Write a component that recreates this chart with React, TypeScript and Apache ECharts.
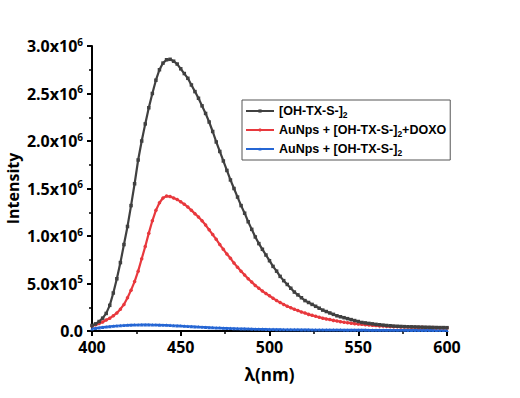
import React, { useEffect, useRef } from "react";
import * as echarts from "echarts";

const wavelengths = [
  400, 402, 404, 406, 408, 410, 412, 414, 416, 418, 420, 422, 424, 426, 428, 430, 432, 434, 436, 438,
  440, 442, 444, 446, 448, 450, 452, 454, 456, 458, 460, 462, 464, 466, 468, 470, 472, 474, 476, 478,
  480, 482, 484, 486, 488, 490, 492, 494, 496, 498, 500, 502, 504, 506, 508, 510, 512, 514, 516, 518,
  520, 522, 524, 526, 528, 530, 532, 534, 536, 538, 540, 542, 544, 546, 548, 550, 552, 554, 556, 558,
  560, 562, 564, 566, 568, 570, 572, 574, 576, 578, 580, 582, 584, 586, 588, 590, 592, 594, 596, 598, 600,
];

// intensities in units of 1e6
const grayValues = [
  0.058, 0.075, 0.1, 0.135, 0.185, 0.27, 0.4, 0.55, 0.72, 0.91, 1.1, 1.32, 1.55, 1.8, 2.0, 2.18, 2.35, 2.5, 2.64, 2.75,
  2.82, 2.855, 2.86, 2.84, 2.81, 2.76, 2.71, 2.66, 2.59, 2.52, 2.45, 2.37, 2.29, 2.2, 2.1, 1.99, 1.89, 1.79, 1.69, 1.59,
  1.5, 1.41, 1.32, 1.24, 1.15, 1.07, 0.99, 0.92, 0.86, 0.8, 0.74, 0.68, 0.63, 0.575, 0.53, 0.49, 0.45, 0.41, 0.38, 0.35,
  0.32, 0.3, 0.28, 0.26, 0.24, 0.22, 0.205, 0.19, 0.175, 0.16, 0.15, 0.14, 0.13, 0.12, 0.11, 0.1, 0.09, 0.085, 0.08, 0.075,
  0.07, 0.066, 0.062, 0.058, 0.055, 0.052, 0.05, 0.048, 0.046, 0.045, 0.044, 0.043, 0.042, 0.041, 0.04, 0.039, 0.038, 0.037, 0.036, 0.036, 0.035,
];

const redValues = [
  0.055, 0.065, 0.078, 0.095, 0.115, 0.135, 0.16, 0.19, 0.23, 0.28, 0.35, 0.43, 0.52, 0.63, 0.76, 0.89, 1.03, 1.16, 1.27, 1.35,
  1.4, 1.42, 1.415, 1.4, 1.385, 1.36, 1.335, 1.305, 1.27, 1.235, 1.2, 1.16, 1.115, 1.065, 1.015, 0.965, 0.91, 0.86, 0.81, 0.765,
  0.715, 0.67, 0.63, 0.59, 0.55, 0.515, 0.48, 0.45, 0.42, 0.395, 0.37, 0.345, 0.32, 0.3, 0.28, 0.26, 0.245, 0.23, 0.215, 0.2,
  0.19, 0.175, 0.165, 0.155, 0.145, 0.135, 0.127, 0.12, 0.112, 0.105, 0.098, 0.092, 0.087, 0.082, 0.077, 0.073, 0.07, 0.066, 0.063, 0.06,
  0.057, 0.054, 0.052, 0.05, 0.048, 0.046, 0.044, 0.043, 0.042, 0.041, 0.04, 0.039, 0.038, 0.038, 0.037, 0.036, 0.036, 0.035, 0.035, 0.034, 0.034,
];

const blueValues = [
  0.025, 0.03, 0.035, 0.04, 0.044, 0.048, 0.052, 0.055, 0.058, 0.06, 0.062, 0.064, 0.065, 0.066, 0.067, 0.067, 0.067, 0.066, 0.065, 0.064,
  0.063, 0.062, 0.06, 0.058, 0.056, 0.054, 0.052, 0.05, 0.048, 0.046, 0.044, 0.042, 0.04, 0.038, 0.036, 0.034, 0.033, 0.031, 0.03, 0.028,
  0.027, 0.026, 0.025, 0.024, 0.023, 0.022, 0.021, 0.02, 0.02, 0.019, 0.018, 0.018, 0.017, 0.017, 0.016, 0.016, 0.015, 0.015, 0.015, 0.014,
  0.014, 0.014, 0.013, 0.013, 0.013, 0.013, 0.012, 0.012, 0.012, 0.012, 0.012, 0.011, 0.011, 0.011, 0.011, 0.011, 0.011, 0.011, 0.01, 0.01,
  0.01, 0.01, 0.01, 0.01, 0.01, 0.01, 0.01, 0.01, 0.01, 0.009, 0.009, 0.009, 0.009, 0.009, 0.009, 0.009, 0.009, 0.008, 0.008, 0.008, 0.008,
];

const seriesNames = ["gray", "red", "blue"];
const legendLabels = [
  "{t|[OH-TX-S-]}{s|2}",
  "{t|AuNps + [OH-TX-S-]}{s|2}{t|+DOXO}",
  "{t|AuNps + [OH-TX-S-]}{s|2}",
];
const colors = ["#404040", "#e8383d", "#2566d4"];
const symbols = ["rect", "circle", "triangle"];

const FONT = "Open Sans";

export default function App() {
  const ref = useRef<HTMLDivElement>(null);
  useEffect(() => {
    if (!ref.current) return;
    const chart = echarts.init(ref.current, null, { renderer: "svg" });
    const datasets = [grayValues, redValues, blueValues];
    const option: any = {
      animation: false,
      backgroundColor: "#ffffff",
      grid: { left: 92, right: 73, top: 46, bottom: 67, containLabel: false, outerBoundsMode: "none" },
      legend: {
        show: true,
        left: 242,
        top: 100,
        orient: "vertical",
        borderColor: "#555",
        borderWidth: 1,
        borderRadius: 0,
        padding: [4, 4, 3, 3],
        itemGap: 4,
        itemWidth: 28,
        itemHeight: 4,
        data: seriesNames,
        formatter: (name: string) => legendLabels[seriesNames.indexOf(name)],
        textStyle: {
          color: "#000",
          fontFamily: "Liberation Sans",
          fontWeight: "bold",
          fontSize: 12.5,
          lineHeight: 14,
          rich: {
            t: { fontFamily: "Liberation Sans", fontWeight: "bold", fontSize: 12.5, color: "#000" },
            s: { fontFamily: "Liberation Sans", fontWeight: "bold", fontSize: 8.5, color: "#000", padding: [7, 0, 0, 0] },
          },
        },
      },
      xAxis: {
        type: "value",
        min: 400,
        max: 600,
        interval: 50,
        name: "λ(nm)",
        nameLocation: "middle",
        nameGap: 35,
        nameMoveOverlap: false,
        nameTextStyle: { fontFamily: FONT, fontWeight: "bold", fontSize: 17, color: "#000" },
        axisLine: { show: true, onZero: false, lineStyle: { color: "#000", width: 2 } },
        axisTick: { show: true, inside: false, length: 5, lineStyle: { color: "#000", width: 2 } },
        minorTick: { show: true, splitNumber: 2, length: 3, lineStyle: { color: "#000", width: 1.5 } },
        splitLine: { show: false },
        axisLabel: { fontFamily: FONT, fontWeight: "bold", fontSize: 16, color: "#000", margin: 8 },
      },
      yAxis: {
        type: "value",
        min: 0,
        max: 3000000,
        interval: 500000,
        name: "Intensity",
        nameLocation: "middle",
        nameGap: 71,
        nameMoveOverlap: false,
        nameTextStyle: { fontFamily: FONT, fontWeight: "bold", fontSize: 16, color: "#000" },
        axisLine: { show: true, lineStyle: { color: "#000", width: 2 } },
        axisTick: { show: true, inside: false, length: 5, lineStyle: { color: "#000", width: 2 } },
        minorTick: { show: true, splitNumber: 2, length: 3, lineStyle: { color: "#000", width: 1.5 } },
        splitLine: { show: false },
        axisLabel: {
          margin: 9,
          formatter: (v: number) => {
            if (v === 0) return "{b|0.0}";
            const exp = Math.floor(Math.log10(v) + 1e-9);
            const mant = v / Math.pow(10, exp);
            return "{b|" + mant.toFixed(1) + "x10}{p|" + exp + "}";
          },
          rich: {
            b: { fontFamily: FONT, fontWeight: "bold", fontSize: 16, color: "#000" },
            p: { fontFamily: FONT, fontWeight: "bold", fontSize: 10, color: "#000", padding: [0, 0, 9, 0] },
          },
        },
      },
      series: seriesNames.map((n, i) => ({
        name: n,
        type: "line",
        data: wavelengths.map((w, k) => [w, datasets[i][k] * 1e6]),
        symbol: symbols[i],
        symbolSize: 3.5,
        showSymbol: true,
        itemStyle: { color: colors[i] },
        lineStyle: { color: colors[i], width: 2.2 },
        z: 3 - i,
      })),
    };
    chart.setOption(option);
    return () => chart.dispose();
  }, []);
  return (
    <div
      ref={ref}
      style={{ position: "fixed", left: 0, top: 0, width: 520, height: 398, background: "#fff" }}
    />
  );
}
